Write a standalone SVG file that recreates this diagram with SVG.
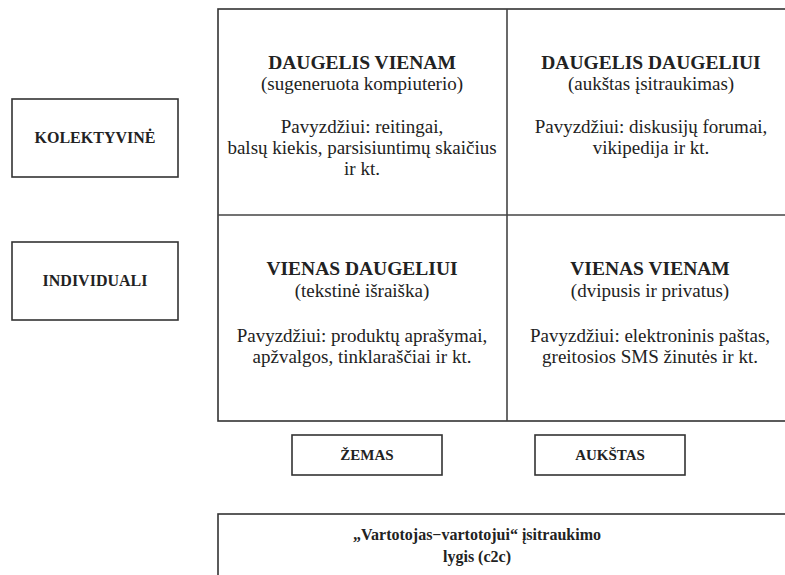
<svg xmlns="http://www.w3.org/2000/svg" width="785" height="575" viewBox="0 0 785 575">
<defs>
<rect id="side" width="166" height="78" fill="#fff" stroke="#333" stroke-width="1.6"/>
<rect id="axis" width="150" height="40" fill="#fff" stroke="#333" stroke-width="1.6"/>
</defs>
<rect width="785" height="575" fill="#fff"/>
<g id="grid">
<rect x="218" y="9" width="600" height="412" fill="#fff" stroke="#333" stroke-width="1.6"/>
</g>
<g id="connectors" stroke="#444" stroke-width="1.6" fill="none">
<line x1="507" y1="9" x2="507" y2="421"/>
<line x1="218" y1="215" x2="785" y2="215"/>
</g>
<g font-family="Liberation Serif" fill="#222" text-anchor="middle">
<g id="cell-daugelis-vienam">
<text font-family="Liberation Serif" font-size="19.5" font-weight="bold" x="362" y="69">DAUGELIS VIENAM</text>
<text font-family="Liberation Serif" font-size="19" x="362" y="90">(sugeneruota kompiuterio)</text>
<text font-family="Liberation Serif" font-size="19" x="362" y="133">Pavyzdžiui: reitingai,</text>
<text font-family="Liberation Serif" font-size="19" x="362" y="154">balsų kiekis, parsisiuntimų skaičius</text>
<text font-family="Liberation Serif" font-size="19" x="362" y="175">ir kt.</text>
</g>
<g id="cell-daugelis-daugeliui">
<text font-family="Liberation Serif" font-size="19.5" font-weight="bold" x="651" y="69">DAUGELIS DAUGELIUI</text>
<text font-family="Liberation Serif" font-size="19" x="651" y="90">(aukštas įsitraukimas)</text>
<text font-family="Liberation Serif" font-size="19" x="651" y="133">Pavyzdžiui: diskusijų forumai,</text>
<text font-family="Liberation Serif" font-size="19" x="651" y="154">vikipedija ir kt.</text>
</g>
<g id="cell-vienas-daugeliui">
<text font-family="Liberation Serif" font-size="19.5" font-weight="bold" x="362" y="275">VIENAS DAUGELIUI</text>
<text font-family="Liberation Serif" font-size="19" x="362" y="297">(tekstinė išraiška)</text>
<text font-family="Liberation Serif" font-size="19" x="362" y="342">Pavyzdžiui: produktų aprašymai,</text>
<text font-family="Liberation Serif" font-size="19" x="362" y="363">apžvalgos, tinklaraščiai ir kt.</text>
</g>
<g id="cell-vienas-vienam">
<text font-family="Liberation Serif" font-size="19.5" font-weight="bold" x="650" y="275">VIENAS VIENAM</text>
<text font-family="Liberation Serif" font-size="19" x="650" y="297">(dvipusis ir privatus)</text>
<text font-family="Liberation Serif" font-size="19" x="650" y="342">Pavyzdžiui: elektroninis paštas,</text>
<text font-family="Liberation Serif" font-size="19" x="650" y="363">greitosios SMS žinutės ir kt.</text>
</g>
<g id="kolektyvine">
<use href="#side" x="12" y="99"/>
<text font-family="Liberation Serif" font-size="16" font-weight="bold" x="95" y="143">KOLEKTYVINĖ</text>
</g>
<g id="individuali">
<use href="#side" x="12" y="242"/>
<text font-family="Liberation Serif" font-size="16" font-weight="bold" x="95" y="286">INDIVIDUALI</text>
</g>
<g id="zemas">
<use href="#axis" x="292" y="435"/>
<text font-family="Liberation Serif" font-size="15" font-weight="bold" x="367" y="460">ŽEMAS</text>
</g>
<g id="aukstas">
<use href="#axis" x="535" y="435"/>
<text font-family="Liberation Serif" font-size="15" font-weight="bold" x="610" y="460">AUKŠTAS</text>
</g>
<g id="c2c">
<rect x="218" y="514" width="600" height="80" fill="#fff" stroke="#333" stroke-width="1.6"/>
<text font-family="Liberation Serif" font-size="16" font-weight="bold" x="477" y="540">„Vartotojas−vartotojui“ įsitraukimo</text>
<text font-family="Liberation Serif" font-size="16" font-weight="bold" x="477" y="562">lygis (c2c)</text>
</g>
</g>
</svg>
